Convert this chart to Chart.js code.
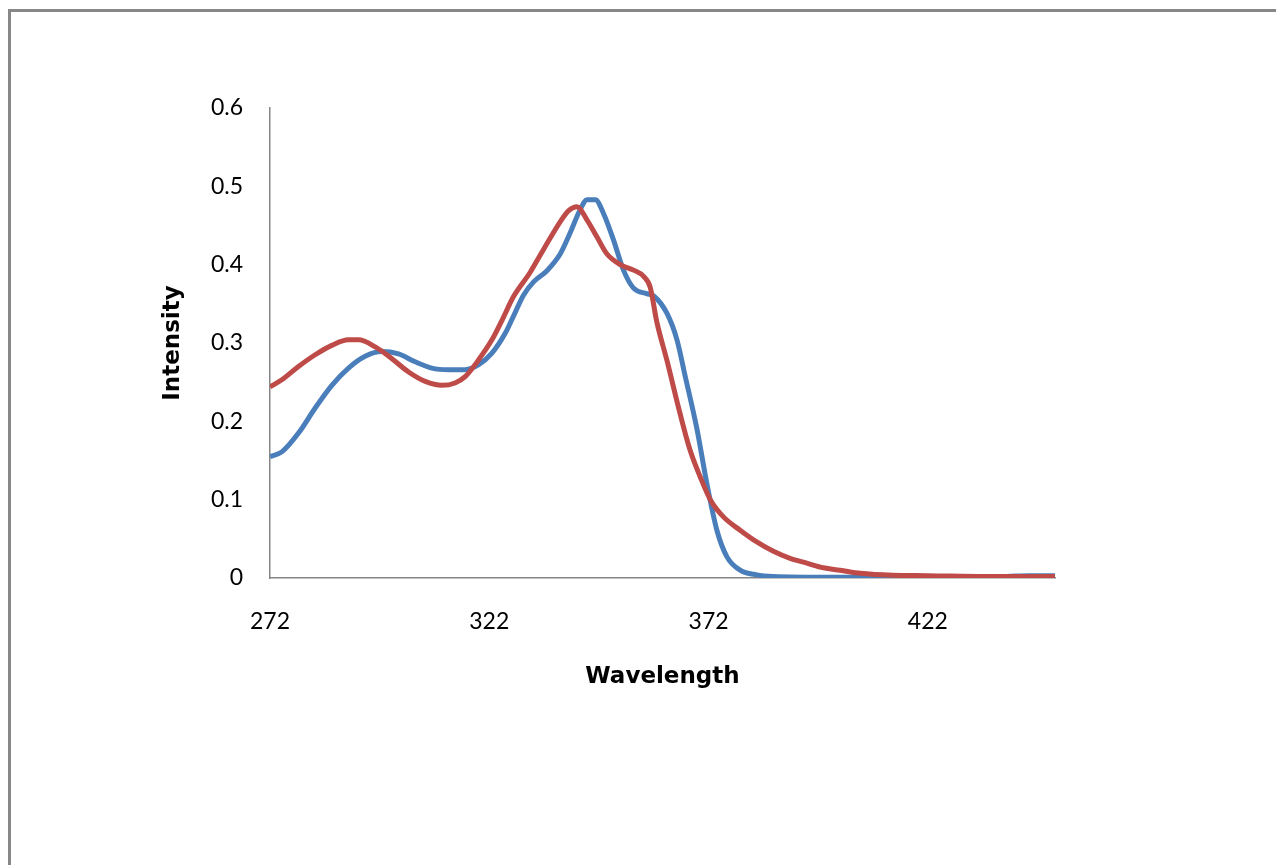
<!DOCTYPE html>
<html>
<head>
<meta charset="utf-8">
<title>Intensity vs Wavelength</title>
<script src="https://cdn.jsdelivr.net/npm/chart.js@4.4.1/dist/chart.umd.min.js"></script>
<style>
  html, body { margin: 0; padding: 0; background: #fff; overflow: hidden; }
  #frame { position: absolute; left: 8px; top: 9px; width: 1400px; height: 1000px; border: 3px solid #878787; }
  #chart { position: absolute; left: 0; top: 0; }
</style>
</head>
<body>
<div id="frame"></div>
<canvas id="chart" width="1276" height="865"></canvas>
<script>
// values
const blueWavelength = [272, 274.7, 278.5, 282.3, 286.1, 289.9, 293.7, 297.5, 301.3, 305.1, 308.9, 312.7,
  316.5, 319.5, 322.6, 325.6, 327.5, 329.8, 332.1, 335.1, 338.2, 340.4, 342.7, 344.3, 346.2, 348,
  350.3, 352.6, 354.9, 357.9, 359.5, 362.5, 364.8, 366.7, 369.4, 371.6, 373.9, 376.2, 379.2, 383,
  386.8, 400, 420, 440, 445, 451];
const blueIntensity = [0.155, 0.161, 0.185, 0.217, 0.246, 0.268, 0.283, 0.289, 0.286, 0.276, 0.268, 0.266,
  0.266, 0.272, 0.287, 0.312, 0.334, 0.361, 0.378, 0.392, 0.414, 0.440, 0.470, 0.483, 0.483, 0.466,
  0.432, 0.393, 0.370, 0.363, 0.360, 0.338, 0.304, 0.257, 0.189, 0.121, 0.061, 0.027, 0.010, 0.004,
  0.002, 0.001, 0.001, 0.002, 0.003, 0.003];

const redWavelength = [272, 274.7, 278.5, 282.3, 286.1, 289.9, 292.2, 296, 299.8, 303.6, 307.4, 311.2,
  314.2, 316.5, 319.5, 322.6, 324.9, 327.5, 331.3, 333.6, 335.9, 338.2, 340.1, 342, 344.3, 346.5,
  348.8, 351.9, 354.9, 357.2, 358.7, 360.2, 362.5, 365.5, 367.8, 370.1, 372.4, 375.4, 379.2, 383,
  386.8, 390.6, 394.4, 398.2, 402, 406.6, 414, 422, 435, 451];
const redIntensity = [0.244, 0.253, 0.270, 0.285, 0.297, 0.304, 0.304, 0.295, 0.280, 0.263, 0.251, 0.246,
  0.249, 0.257, 0.278, 0.304, 0.329, 0.359, 0.390, 0.412, 0.434, 0.455, 0.469, 0.474, 0.457, 0.436,
  0.414, 0.400, 0.393, 0.385, 0.371, 0.327, 0.278, 0.210, 0.163, 0.129, 0.100, 0.078, 0.061, 0.046,
  0.034, 0.025, 0.019, 0.013, 0.010, 0.006, 0.0035, 0.003, 0.002, 0.002];

const xTickLabels = [272, 322, 372, 422];

function toPoints(xs, ys) {
  return xs.map((x, i) => ({ x: x, y: ys[i] }));
}

Chart.defaults.font.family = "Lato";
Chart.defaults.color = "#000";

new Chart(document.getElementById("chart"), {
  type: "line",
  data: {
    datasets: [
      {
        label: "Series1",
        data: toPoints(blueWavelength, blueIntensity),
        borderColor: "#4A7EBB",
        borderWidth: 5,
        pointRadius: 0,
        cubicInterpolationMode: "monotone",
        order: 1,
      },
      {
        label: "Series2",
        data: toPoints(redWavelength, redIntensity),
        borderColor: "#BE4B48",
        borderWidth: 5,
        pointRadius: 0,
        cubicInterpolationMode: "monotone",
        order: 0,
      },
    ],
  },
  options: {
    responsive: false,
    animation: false,
    layout: {
      padding: { left: 150, top: 108, right: 221, bottom: 157 },
    },
    plugins: {
      legend: { display: false },
      tooltip: { enabled: false },
    },
    scales: {
      x: {
        type: "linear",
        min: 272,
        max: 451,
        afterBuildTicks: (scale) => {
          scale.ticks = xTickLabels.map((v) => ({ value: v }));
        },
        afterFit: (scale) => {
          scale.height = 130;
        },
        grid: { display: false, drawTicks: false },
        border: { display: true, color: "#868686", width: 1.5 },
        ticks: {
          autoSkip: false,
          maxRotation: 0,
          padding: 30,
          font: { size: 23 },
          callback: (v) => String(v),
        },
        title: {
          display: true,
          text: "Wavelength",
          font: { family: "DejaVu Sans", size: 23, weight: "bold" },
          padding: { top: 0, bottom: 17 },
        },
      },
      y: {
        min: 0,
        max: 0.6,
        afterFit: (scale) => {
          scale.width = 120;
        },
        grid: { display: false, drawTicks: false },
        border: { display: true, color: "#868686", width: 1.5 },
        ticks: {
          stepSize: 0.1,
          padding: 27,
          font: { size: 23 },
        },
        title: {
          display: true,
          text: "Intensity",
          font: { family: "DejaVu Sans", size: 23, weight: "bold" },
          padding: { top: 9, bottom: 0 },
        },
      },
    },
  },
});
</script>
</body>
</html>
